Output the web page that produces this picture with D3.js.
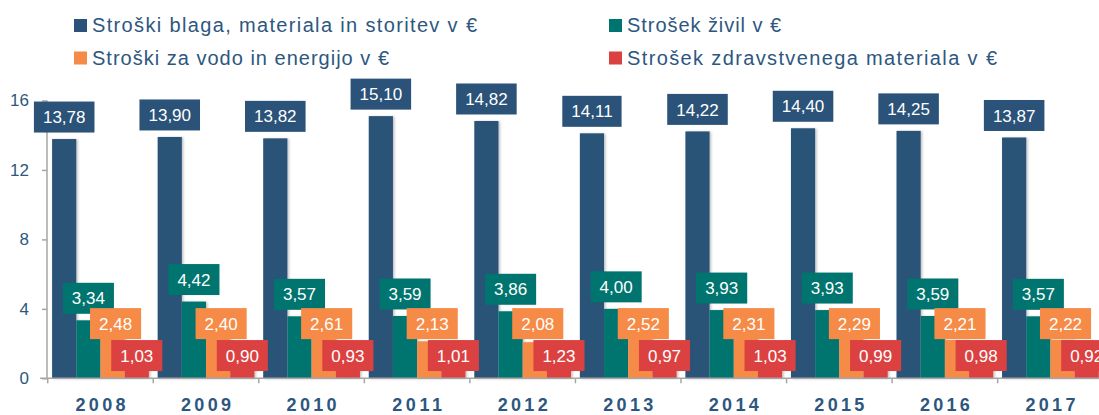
<!DOCTYPE html>
<html>
<head>
<meta charset="utf-8">
<script src="https://cdn.jsdelivr.net/npm/d3@7"></script>
<style>
  html, body { margin: 0; padding: 0; background: #fff; overflow: hidden; }
  svg { display: block; font-family: "Liberation Sans", Arial, sans-serif; }
</style>
</head>
<body>
<div class="chart"></div>
<script>
const WIDTH = 1099;
const HEIGHT = 415;

// data
var years = ["2008", "2009", "2010", "2011", "2012", "2013", "2014", "2015", "2016", "2017"];
var blaga = [13.78, 13.90, 13.82, 15.10, 14.82, 14.11, 14.22, 14.40, 14.25, 13.87];
var zivila = [3.34, 4.42, 3.57, 3.59, 3.86, 4.00, 3.93, 3.93, 3.59, 3.57];
var voda = [2.48, 2.40, 2.61, 2.13, 2.08, 2.52, 2.31, 2.29, 2.21, 2.22];
var zdrav = [1.03, 0.90, 0.93, 1.01, 1.23, 0.97, 1.03, 0.99, 0.98, 0.92];
var seriesNames = [
  "Stroški blaga, materiala in storitev v €",
  "Strošek živil v €",
  "Stroški za vodo in energijo v €",
  "Strošek zdravstvenega materiala v €"
];
var yTicks = [0, 4, 8, 12, 16];

var colors = ["#2b5278", "#00756f", "#f68b47", "#dc4141"];
var textColor = "#2d5780";
var axisColor = "#a6a6a6";

var translate = function(x, y) {
  return "translate(" + x + "," + y + ")";
};

var fmt = function(v) {
  return d3.format(".2f")(v).replace(".", ",");
};

var series = [
  { name: seriesNames[0], values: blaga, color: colors[0] },
  { name: seriesNames[1], values: zivila, color: colors[1] },
  { name: seriesNames[2], values: voda, color: colors[2] },
  { name: seriesNames[3], values: zdrav, color: colors[3] }
];

var drawChart = function() {
  var svg = d3.select(".chart").append("svg")
    .attr("width", WIDTH)
    .attr("height", HEIGHT);

  var defs = svg.append("defs");
  defs.append("filter")
    .attr("id", "shadow")
    .attr("x", "-20%").attr("y", "-5%").attr("width", "150%").attr("height", "110%")
    .append("feDropShadow")
    .attr("dx", 1.5).attr("dy", 0.5)
    .attr("stdDeviation", 1.2)
    .attr("flood-color", "#000")
    .attr("flood-opacity", 0.25);

  var xScale = d3.scaleBand()
    .domain(years)
    .range([47.7, 1103.2]);

  var inner = d3.scaleBand()
    .domain(d3.range(series.length))
    .range([4.4, xScale.bandwidth() - 4.4]);

  var yScale = d3.scaleLinear()
    .domain([0, 16])
    .range([378.3, 100.5]);

  // bars
  series.forEach(function(s, si) {
    svg.append("g")
      .attr("filter", "url(#shadow)")
      .selectAll("rect")
      .data(s.values)
      .enter()
      .append("rect")
      .attr("x", function(d, i) { return xScale(years[i]) + inner(si); })
      .attr("width", inner.bandwidth())
      .attr("y", function(d) { return yScale(d); })
      .attr("height", function(d) { return yScale(0) - yScale(d); })
      .style("fill", s.color);
  });

  // axes
  var yAxis = d3.axisLeft(yScale).tickValues(yTicks).tickSize(5).tickPadding(13).tickFormat(d3.format("d"));
  var gy = svg.append("g")
    .attr("transform", translate(47, 0))
    .call(yAxis);
  gy.select(".domain").attr("stroke", axisColor).attr("stroke-width", 1.5)
    .attr("d", "M0," + yScale(16) + "V" + yScale(0));
  gy.selectAll(".tick line").attr("stroke", axisColor).attr("stroke-width", 1.5);
  gy.selectAll(".tick text")
    .attr("fill", textColor)
    .style("font-size", "17px")
    .style("font-family", "'Liberation Sans', Arial, sans-serif");

  var gx = svg.append("g")
    .attr("transform", translate(0, yScale(0)));
  gx.append("line")
    .attr("x1", 40).attr("x2", WIDTH)
    .attr("stroke", axisColor).attr("stroke-width", 1.5);
  gx.selectAll(".xtick")
    .data(years)
    .enter()
    .append("line")
    .attr("x1", function(d) { return xScale(d); })
    .attr("x2", function(d) { return xScale(d); })
    .attr("y1", 0).attr("y2", 5)
    .attr("stroke", axisColor).attr("stroke-width", 1.5);
  gx.selectAll(".xlabel")
    .data(years)
    .enter()
    .append("text")
    .attr("x", function(d) { return xScale(d) + xScale.bandwidth() / 2; })
    .attr("y", 32.5)
    .attr("text-anchor", "middle")
    .attr("fill", textColor)
    .style("font-size", "18px")
    .style("font-weight", "bold")
    .attr("textLength", 50)
    .attr("lengthAdjust", "spacing")
    .text(function(d) { return d; });

  // data labels: blue and teal above the bar, orange and red on a fixed level
  var labelLevel = [null, null, 3.15, 1.31];
  var labelShift = [0, 0, 3, 0];
  series.forEach(function(s, si) {
    var g = svg.append("g");
    s.values.forEach(function(v, i) {
      var cx = xScale(years[i]) + inner(si) + inner.bandwidth() / 2 + labelShift[si];
      var cy = labelLevel[si] === null ? yScale(v) - 6.5 - 15.5 : yScale(labelLevel[si]);
      var lg = g.append("g").attr("transform", translate(cx, cy));
      var rect = lg.append("rect").style("fill", s.color);
      var t = lg.append("text")
        .attr("text-anchor", "middle")
        .attr("dy", "0.36em")
        .attr("fill", "#fff")
        .style("font-size", "17px")
        .text(fmt(v));
      var w = t.node().getComputedTextLength() + 18;
      rect.attr("x", -w / 2).attr("y", -15.5).attr("width", w).attr("height", 31);
    });
  });

  // legend
  var legendPos = [[74, 19], [609, 19], [74, 51.5], [609, 51.5]];
  var legendLen = [385, 154, 297, 370];
  var legend = svg.append("g");
  series.forEach(function(s, si) {
    var p = legendPos[si];
    legend.append("rect")
      .attr("x", p[0]).attr("y", p[1])
      .attr("width", 13).attr("height", 13)
      .style("fill", s.color);
    legend.append("text")
      .attr("x", p[0] + 18)
      .attr("y", p[1] + 13)
      .attr("fill", textColor)
      .style("font-size", "20px")
      .attr("textLength", legendLen[si])
      .attr("lengthAdjust", "spacing")
      .text(s.name);
  });
};

window.onload = drawChart;
</script>
</body>
</html>
